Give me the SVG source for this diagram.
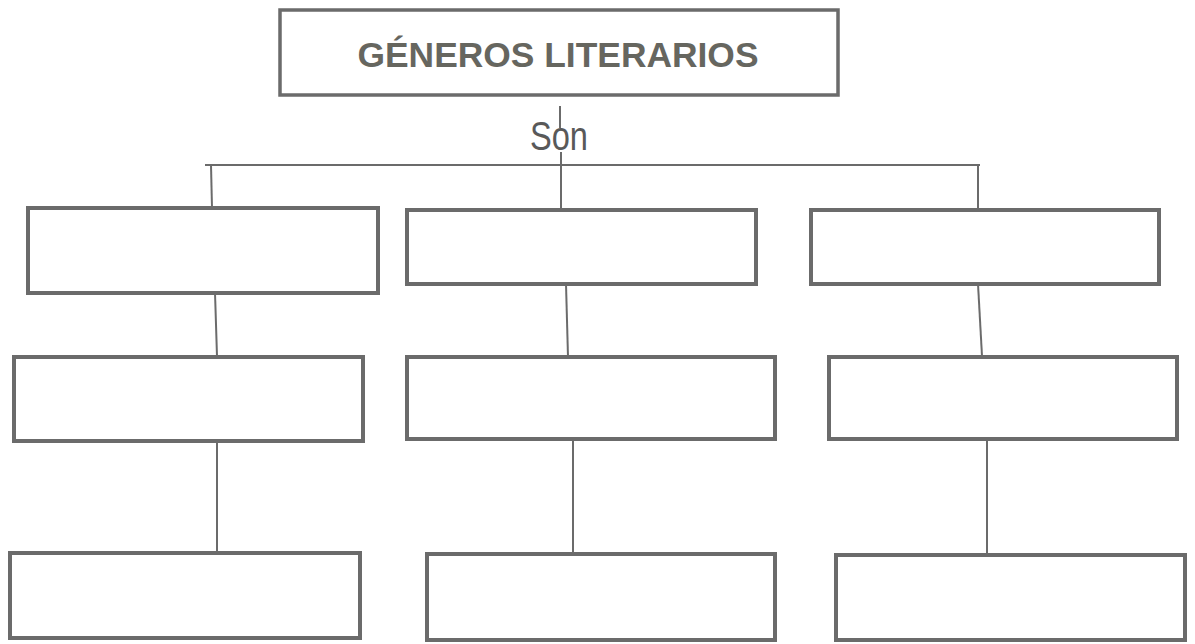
<svg xmlns="http://www.w3.org/2000/svg" width="1195" height="644" viewBox="0 0 1195 644">
<style>
.box{fill:none;stroke:#6b6b6b;stroke-width:4}
.title{fill:none;stroke:#6b6b6b;stroke-width:3.5}
.ln{fill:none;stroke:#6b6b6b;stroke-width:2}
.t1{font-family:"Liberation Sans",Arial,sans-serif;font-weight:bold;font-size:35px;fill:#66665f}
.t2{font-family:"Liberation Sans",Arial,sans-serif;font-size:41px;fill:#595959}
</style>
<rect x="0" y="0" width="1195" height="644" fill="#ffffff"/>
<g id="title">
<rect class="title" x="280" y="10" width="558" height="85"/>
<text class="t1" x="558" y="67" text-anchor="middle" textLength="401" lengthAdjust="spacingAndGlyphs">GÉNEROS LITERARIOS</text>
</g>
<g id="son">
<text class="t2" x="559" y="150" text-anchor="middle" textLength="58" lengthAdjust="spacingAndGlyphs">Son</text>
</g>
<g id="connectors">
<line class="ln" x1="560" y1="106" x2="560" y2="128"/>
<line class="ln" x1="561" y1="152" x2="561" y2="210"/>
<line class="ln" x1="205" y1="165" x2="980" y2="165"/>
<line class="ln" x1="211" y1="165" x2="212" y2="208"/>
<line class="ln" x1="978" y1="165" x2="978" y2="210"/>
<line class="ln" x1="215" y1="293" x2="217" y2="356"/>
<line class="ln" x1="566" y1="284" x2="568" y2="357"/>
<line class="ln" x1="978" y1="284" x2="982" y2="356"/>
<line class="ln" x1="217" y1="441" x2="217" y2="553"/>
<line class="ln" x1="573" y1="440" x2="573" y2="553"/>
<line class="ln" x1="987" y1="440" x2="987" y2="555"/>
</g>
<g id="box1"><rect class="box" x="28" y="208" width="350" height="85"/></g>
<g id="box2"><rect class="box" x="407" y="210" width="349" height="74"/></g>
<g id="box3"><rect class="box" x="811" y="210" width="348" height="74"/></g>
<g id="box4"><rect class="box" x="14" y="357" width="349" height="84"/></g>
<g id="box5"><rect class="box" x="407" y="357" width="368" height="82"/></g>
<g id="box6"><rect class="box" x="829" y="357" width="348" height="82"/></g>
<g id="box7"><rect class="box" x="10" y="553" width="350" height="85"/></g>
<g id="box8"><rect class="box" x="427" y="554" width="348" height="86"/></g>
<g id="box9"><rect class="box" x="836" y="555" width="349" height="85"/></g>
</svg>
